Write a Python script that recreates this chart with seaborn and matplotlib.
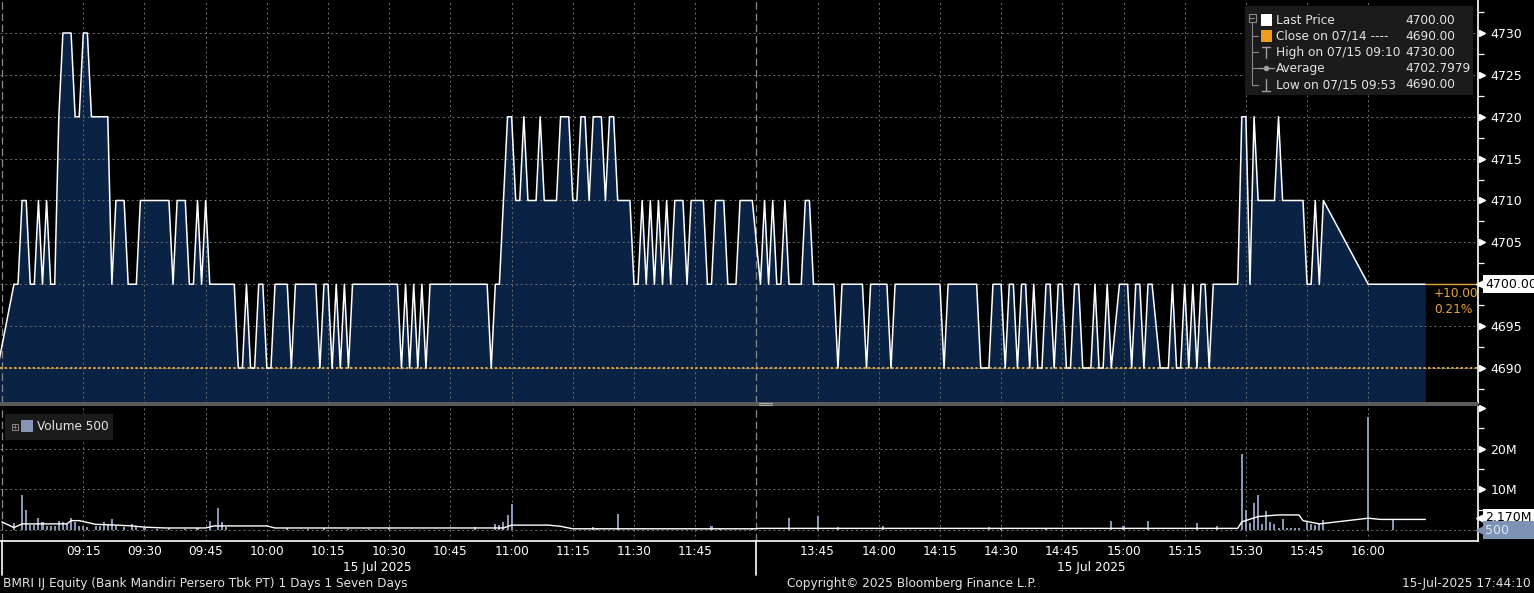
"""
BMRI IJ intraday chart (Bloomberg terminal look)
=================================================
Price area on top, volume bars + average line below.
The lunch break (12:00 - 13:30) is collapsed on the time axis.

Saves: out.png
"""

import matplotlib
matplotlib.use("Agg")
import matplotlib.pyplot as plt
import matplotlib.transforms as mtransforms
from matplotlib.lines import Line2D
from matplotlib.patches import Rectangle
import pandas as pd
import seaborn as sns

# ---------------------------------------------------------------------------
# DATA
# ---------------------------------------------------------------------------
AM_TIMES = [
    "08:54", "08:58", "08:59", "09:00", "09:01", "09:02", "09:03", "09:04", "09:05", "09:06",
    "09:07", "09:08", "09:09", "09:10", "09:12", "09:13", "09:14", "09:15", "09:16", "09:17",
    "09:21", "09:22", "09:23", "09:25", "09:26", "09:28", "09:29", "09:36", "09:37", "09:38",
    "09:40", "09:41", "09:42", "09:43", "09:44", "09:45", "09:46", "09:52", "09:53", "09:54",
    "09:55", "09:56", "09:57", "09:58", "09:59", "10:00", "10:01", "10:02", "10:05", "10:06",
    "10:07", "10:12", "10:13", "10:14", "10:15", "10:16", "10:17", "10:18", "10:19", "10:20",
    "10:21", "10:32", "10:33", "10:34", "10:35", "10:36", "10:37", "10:38", "10:39", "10:40",
    "10:54", "10:55", "10:56", "10:57", "10:58", "10:59", "11:00", "11:01", "11:02", "11:03",
    "11:04", "11:06", "11:07", "11:08", "11:11", "11:12", "11:14", "11:15", "11:16", "11:17",
    "11:18", "11:19", "11:20", "11:22", "11:23", "11:24", "11:25", "11:26", "11:29", "11:30",
    "11:31", "11:32", "11:33", "11:34", "11:35", "11:36", "11:37", "11:38", "11:39", "11:40",
    "11:42", "11:43", "11:44", "11:47", "11:48", "11:49", "11:50", "11:52", "11:53", "11:55",
    "11:56", "11:59",
]
AM_PRICES = [
    4690, 4700, 4700, 4710, 4710, 4700, 4700, 4710, 4700, 4710,
    4700, 4700, 4720, 4730, 4730, 4720, 4720, 4730, 4730, 4720,
    4720, 4700, 4710, 4710, 4700, 4700, 4710, 4710, 4700, 4710,
    4710, 4700, 4700, 4710, 4700, 4710, 4700, 4700, 4690, 4690,
    4700, 4690, 4690, 4700, 4700, 4690, 4690, 4700, 4700, 4690,
    4700, 4700, 4690, 4700, 4700, 4690, 4700, 4690, 4700, 4690,
    4700, 4700, 4690, 4700, 4690, 4700, 4690, 4700, 4690, 4700,
    4700, 4690, 4700, 4700, 4710, 4720, 4720, 4710, 4710, 4720,
    4710, 4710, 4720, 4710, 4710, 4720, 4720, 4710, 4710, 4720,
    4720, 4710, 4720, 4720, 4710, 4720, 4720, 4710, 4710, 4700,
    4700, 4710, 4700, 4710, 4700, 4710, 4700, 4710, 4700, 4710,
    4710, 4700, 4710, 4710, 4700, 4700, 4710, 4710, 4700, 4700,
    4710, 4710,
]
PM_TIMES = [
    "13:31", "13:32", "13:33", "13:34", "13:35", "13:36", "13:37", "13:38", "13:41", "13:42",
    "13:43", "13:44", "13:49", "13:50", "13:51", "13:56", "13:57", "13:58", "14:02", "14:03",
    "14:04", "14:15", "14:16", "14:17", "14:24", "14:25", "14:27", "14:28", "14:30", "14:31",
    "14:32", "14:33", "14:34", "14:35", "14:36", "14:37", "14:38", "14:39", "14:40", "14:41",
    "14:42", "14:43", "14:44", "14:45", "14:46", "14:47", "14:48", "14:49", "14:50", "14:52",
    "14:53", "14:54", "14:55", "14:56", "14:57", "14:59", "15:01", "15:02", "15:03", "15:04",
    "15:05", "15:06", "15:07", "15:09", "15:11", "15:12", "15:13", "15:14", "15:15", "15:16",
    "15:17", "15:18", "15:19", "15:20", "15:21", "15:22", "15:28", "15:29", "15:30", "15:31",
    "15:32", "15:33", "15:37", "15:38", "15:39", "15:44", "15:45", "15:46", "15:47", "15:48",
    "15:49", "16:00", "16:14",
]
PM_PRICES = [
    4700, 4710, 4700, 4710, 4700, 4700, 4710, 4700, 4700, 4710,
    4710, 4700, 4700, 4690, 4700, 4700, 4690, 4700, 4700, 4690,
    4700, 4700, 4690, 4700, 4700, 4690, 4690, 4700, 4700, 4690,
    4700, 4700, 4690, 4700, 4700, 4690, 4700, 4690, 4690, 4700,
    4700, 4690, 4700, 4700, 4690, 4690, 4700, 4700, 4690, 4690,
    4700, 4690, 4690, 4700, 4690, 4700, 4700, 4690, 4700, 4700,
    4690, 4700, 4700, 4690, 4690, 4700, 4690, 4690, 4700, 4690,
    4700, 4690, 4700, 4700, 4690, 4700, 4700, 4720, 4720, 4700,
    4720, 4710, 4710, 4720, 4710, 4710, 4700, 4700, 4710, 4700,
    4710, 4700, 4700,
]

# volume per minute, millions of shares
VOL_TIMES = [
    "08:58", "09:00", "09:01", "09:02", "09:03", "09:04", "09:05", "09:06", "09:07", "09:08",
    "09:09", "09:10", "09:11", "09:12", "09:13", "09:14", "09:15", "09:16", "09:18", "09:19",
    "09:20", "09:21", "09:22", "09:23", "09:25", "09:27", "09:28", "09:30", "09:33", "09:36",
    "09:40", "09:43", "09:46", "09:48", "09:49", "09:50", "10:05", "10:10", "10:14", "10:20",
    "10:25", "10:30", "10:51", "10:56", "10:57", "10:58", "10:59", "11:00", "11:20", "11:21",
    "11:26", "11:49", "11:51", "11:59", "13:38", "13:45", "13:50", "14:01", "14:27", "14:30",
    "14:41", "14:57", "15:00", "15:06", "15:18", "15:23", "15:29", "15:30", "15:31", "15:32",
    "15:33", "15:34", "15:35", "15:36", "15:37", "15:38", "15:39", "15:40", "15:41", "15:42",
    "15:43", "15:45", "15:46", "15:47", "15:48", "15:49", "16:00", "16:06",
]
VOL_VALUES = [
    1.6, 8.6, 4.9, 1.2, 1.2, 2.9, 2.0, 1.1, 1.1, 1.1,
    2.1, 2.0, 1.5, 2.9, 2.0, 1.1, 0.9, 0.8, 0.9, 0.9,
    2.0, 1.5, 2.7, 0.9, 0.8, 1.4, 0.8, 0.4, 0.3, 0.4,
    0.3, 0.4, 2.1, 5.4, 1.9, 0.8, 0.4, 0.3, 0.4, 0.3,
    0.3, 0.4, 0.7, 1.5, 1.3, 2.0, 3.7, 6.4, 0.7, 0.5,
    3.9, 1.0, 0.3, 0.6, 2.9, 3.5, 0.8, 1.1, 0.7, 0.5,
    0.4, 2.2, 1.0, 2.2, 1.6, 1.0, 18.6, 4.9, 1.8, 6.7,
    8.6, 1.5, 4.7, 1.9, 1.4, 0.6, 2.6, 0.5, 0.5, 0.5,
    0.5, 2.2, 1.5, 1.2, 1.5, 2.5, 27.7, 2.6,
]

# average volume line, millions
AVG_TIMES = [
    "08:55", "08:58", "09:00", "09:11", "09:12", "09:14", "09:18", "09:23", "09:27", "09:30",
    "09:35", "09:45", "09:47", "10:00", "10:02", "10:58", "11:00", "11:09", "11:12", "11:15",
    "11:59", "13:31", "15:28", "15:29", "15:33", "15:38", "15:43", "15:44", "15:48", "16:00",
    "16:03", "16:14",
]
AVG_VALUES = [
    2.0, 0.6, 1.5, 1.5, 2.3, 2.3, 1.4, 1.2, 1.0, 0.7,
    0.5, 0.5, 1.0, 1.0, 0.5, 0.5, 1.2, 1.2, 0.9, 0.3,
    0.3, 0.4, 0.4, 2.0, 3.3, 3.7, 3.7, 2.3, 1.5, 2.9,
    2.6, 2.6,
]

TIME_TICKS = ["09:15", "09:30", "09:45", "10:00", "10:15", "10:30", "10:45", "11:00",
              "11:15", "11:30", "11:45", "13:45", "14:00", "14:15", "14:30", "14:45",
              "15:00", "15:15", "15:30", "15:45", "16:00"]
PRICE_TICKS = [4690, 4695, 4700, 4705, 4710, 4715, 4720, 4725, 4730]
VOL_TICKS = [10, 20]
VOL_TICK_LABELS = ["10M", "20M"]

LAST_PRICE = 4700
PREV_CLOSE = 4690
LEGEND_LABELS = ["Last Price", "Close on 07/14 ----", "High on 07/15 09:10",
                 "Average", "Low on 07/15 09:53"]
LEGEND_VALUES = ["4700.00", "4690.00", "4730.00", "4702.7979", "4690.00"]

# ---------------------------------------------------------------------------
# STYLE
# ---------------------------------------------------------------------------
W, H = 1534, 593
BG = "#000000"
FILL = "#0a2344"
GRID = "#6f6f6f"
TXT = "#e4e4e4"
ORANGE = "#e8a33d"
VOL_COLOR = "#8796b4"
FS = 8.7


def clock_pos(t):
    """HH:MM -> minutes after 09:00 on a clock with the lunch break removed."""
    h, m = t.split(":")
    mins = int(h) * 60 + int(m)
    if mins >= 13 * 60 + 30:
        return 180 + mins - (13 * 60 + 30)
    return mins - 9 * 60


def fx(x):
    return x / W


def fy(y):
    return 1 - y / H


def px_line(fig, xs, ys, **kw):
    fig.add_artist(Line2D([fx(x) for x in xs], [fy(y) for y in ys],
                          transform=fig.transFigure, **kw))


def px_rect(fig, x0, y0, x1, y1, **kw):
    fig.add_artist(Rectangle((fx(x0), fy(y1)), fx(x1) - fx(x0), fy(y0) - fy(y1),
                             transform=fig.transFigure, **kw))


def style_axis(ax, fig, ticks, labels, minor, arrows):
    for s in ax.spines.values():
        s.set_visible(False)
    ax.spines["right"].set_visible(True)
    ax.spines["right"].set_color("white")
    ax.spines["right"].set_linewidth(1.2)
    ax.yaxis.tick_right()
    ax.set_yticks(ticks)
    ax.set_yticklabels(labels)
    ax.set_yticks(minor, minor=True)
    ax.tick_params(axis="y", which="major", length=0, pad=9, labelsize=FS + 0.3,
                   labelcolor="white")
    ax.tick_params(axis="y", which="minor", length=4, width=0.9, color="white",
                   direction="out")
    trans = mtransforms.blended_transform_factory(ax.transAxes, ax.transData)
    trans = mtransforms.offset_copy(trans, fig=fig, x=3.5, y=0, units="dots")
    ax.plot([1.0] * len(arrows), arrows, ls="none", marker=">", ms=5, color="white",
            transform=trans, clip_on=False, zorder=6)
    ax.set_xlabel("")
    ax.set_ylabel("")


def grid(ax, xs, ys):
    for x in xs:
        ax.axvline(x, color=GRID, ls=(0, (2, 3)), lw=0.7, zorder=2)
    for y in ys:
        ax.axhline(y, color=GRID, ls=(0, (2, 3)), lw=0.7, zorder=2)
    for t in ["08:55", "12:00"]:
        ax.axvline(clock_pos(t), color="#8a8a8a", ls=(0, (6, 3)), lw=0.9, zorder=2)


def tag(ax, fig, y, text, fc, tc, z):
    trans = mtransforms.blended_transform_factory(ax.transAxes, ax.transData)
    ax.plot([1.0], [y], marker="<", ms=8, color=fc, ls="none", clip_on=False, zorder=z,
            transform=mtransforms.offset_copy(trans, fig=fig, x=4, units="dots"))
    ax.text(1.0, y, text, ha="left", va="center", fontsize=FS + 0.3, color=tc,
            transform=mtransforms.offset_copy(trans, fig=fig, x=7, units="dots"),
            bbox=dict(boxstyle="square,pad=0.2", fc=fc, ec="none"),
            clip_on=False, zorder=z)


def main():
    sns.set_style("dark", {"axes.facecolor": BG, "figure.facecolor": BG})
    plt.rcParams["font.family"] = ["DejaVu Sans"]

    price = pd.DataFrame({"t": AM_TIMES + PM_TIMES, "price": AM_PRICES + PM_PRICES})
    price["x"] = price["t"].map(clock_pos)
    vol = pd.DataFrame({"t": VOL_TIMES, "v": VOL_VALUES})
    vol["x"] = vol["t"].map(clock_pos)
    avg = pd.DataFrame({"t": AVG_TIMES, "v": AVG_VALUES})
    avg["x"] = avg["t"].map(clock_pos)
    tick_x = [clock_pos(t) for t in TIME_TICKS]

    fig = plt.figure(figsize=(W / 100, H / 100), dpi=100)
    ax_p = fig.add_axes([0, fy(403), fx(1478), 403 / H])
    ax_v = fig.add_axes([0, fy(541), fx(1478), 134 / H])
    x_lo, x_hi = -5.42, 356.9
    p_lo, p_hi = 4685.82, 4733.94

    # ---- price panel ----
    ax_p.fill_between(price["x"], price["price"], p_lo, color=FILL, lw=0, zorder=1)
    grid(ax_p, tick_x, PRICE_TICKS)
    ax_p.axhline(PREV_CLOSE, color="#e0aa3a", ls=(0, (1.2, 1.2)), lw=1.4, zorder=3)
    sns.lineplot(data=price, x="x", y="price", ax=ax_p, color="white", linewidth=1.1,
                 estimator=None, sort=False, zorder=4)
    ax_p.plot([price["x"].iloc[-1], x_hi], [LAST_PRICE, LAST_PRICE], color=ORANGE,
              lw=1.0, zorder=4)
    ax_p.set_xlim(x_lo, x_hi)
    ax_p.set_ylim(p_lo, p_hi)
    ax_p.set_xticks([])
    minor_p = [p + 2.5 for p in PRICE_TICKS[:-1]] + [4687.5, 4732.5]
    # the last-price tag sits on top of the 4700 label
    labels_p = ["" if p == LAST_PRICE else str(p) for p in PRICE_TICKS]
    arrows_p = [p for p in PRICE_TICKS if p != LAST_PRICE]
    style_axis(ax_p, fig, PRICE_TICKS, labels_p, minor_p, arrows_p)
    tag(ax_p, fig, LAST_PRICE, "4700.00", "white", "black", 8)
    ax_p.text(x_hi - 10.8, LAST_PRICE - 1.1, "+10.00", color=ORANGE, fontsize=FS,
              ha="left", va="center", zorder=6)
    ax_p.text(x_hi - 10.8, LAST_PRICE - 3.0, "0.21%", color=ORANGE, fontsize=FS,
              ha="left", va="center", zorder=6)

    # ---- volume panel ----
    grid(ax_v, tick_x, [0, 10, 20])
    ax_v.bar(vol["x"], vol["v"], width=0.5, color=VOL_COLOR, lw=0, zorder=3)
    sns.lineplot(data=avg, x="x", y="v", ax=ax_v, color="white", linewidth=1.0,
                 estimator=None, sort=False, zorder=4)
    ax_v.set_xlim(x_lo, x_hi)
    ax_v.set_ylim(-2.7, 30.2)
    style_axis(ax_v, fig, VOL_TICKS, VOL_TICK_LABELS, [5, 15, 25], [10, 20, 30])
    ax_v.spines["bottom"].set_visible(True)
    ax_v.spines["bottom"].set_color("white")
    ax_v.spines["bottom"].set_linewidth(1.2)
    ax_v.set_xticks(tick_x)
    ax_v.set_xticklabels(TIME_TICKS)
    ax_v.tick_params(axis="x", length=0, pad=3, labelsize=FS, labelcolor="white")
    tag(ax_v, fig, 3.0, "2.170M", "white", "black", 7)
    tag(ax_v, fig, 0.0, "500      ", "#7d92b4", "#dfe6f2", 8)

    # session separators under the time axis + date labels
    tb = mtransforms.blended_transform_factory(ax_v.transData, ax_v.transAxes)
    for t in ["08:55", "12:00"]:
        ax_v.plot([clock_pos(t)] * 2, [0, -0.25], color="white", lw=1.2,
                  transform=tb, clip_on=False)
    for t in ["10:27", "14:52"]:
        ax_v.text(clock_pos(t), -0.195, "15 Jul 2025", transform=tb, ha="center",
                  va="center", color="white", fontsize=FS)

    # ---- panel divider ----
    px_rect(fig, 0, 402, 1478, 406, fc="#5a5a5a", ec="none", zorder=5)
    px_line(fig, [759, 772], [403.4, 403.4], color="#b0b0b0", lw=0.8, zorder=6)
    px_line(fig, [759, 772], [405.0, 405.0], color="#b0b0b0", lw=0.8, zorder=6)

    # ---- price legend ----
    px_rect(fig, 1245, 6, 1473, 95, fc="#1b1b1b", ec="none", zorder=5)
    rows = [20.5, 36.0, 52.3, 68.3, 84.8]
    px_rect(fig, 1248.5, 14.5, 1255.5, 21.5, fc="none", ec="#8a8a8a", lw=0.8, zorder=6)
    px_line(fig, [1250, 1254], [18, 18], color="#8a8a8a", lw=0.8, zorder=6)
    px_line(fig, [1252, 1252], [21.5, rows[-1]], color="#8a8a8a", lw=0.8, zorder=6)
    for r in rows[1:]:
        px_line(fig, [1252, 1258], [r, r], color="#8a8a8a", lw=0.8, zorder=6)
    px_rect(fig, 1260.5, 14, 1272, 25.5, fc="white", ec="none", zorder=6)
    px_rect(fig, 1260.5, 30, 1272, 41.5, fc="#f09a1e", ec="none", zorder=6)
    px_line(fig, [1262, 1270], [46.5, 46.5], color="#a0a0a0", lw=1.0, zorder=6)
    px_line(fig, [1266, 1266], [46.5, 58], color="#a0a0a0", lw=1.0, zorder=6)
    px_line(fig, [1258, 1274], [rows[3], rows[3]], color="#a0a0a0", lw=0.9, zorder=6)
    fig.add_artist(Line2D([fx(1266)], [fy(rows[3])], marker="o", ms=3, color="#a0a0a0",
                          transform=fig.transFigure, zorder=6))
    px_line(fig, [1266, 1266], [79, 90.5], color="#a0a0a0", lw=1.0, zorder=6)
    px_line(fig, [1262, 1270], [90.5, 90.5], color="#a0a0a0", lw=1.0, zorder=6)
    for r, lab, val in zip(rows, LEGEND_LABELS, LEGEND_VALUES):
        fig.text(fx(1276), fy(r), lab, color=TXT, fontsize=FS, va="center", zorder=7)
        fig.text(fx(1405), fy(r), val, color=TXT, fontsize=FS, va="center", zorder=7)

    # ---- volume legend ----
    px_rect(fig, 5, 414, 113, 440, fc="#1b1b1b", ec="none", zorder=5)
    px_rect(fig, 11.5, 423.5, 17.5, 429.5, fc="none", ec="#8a8a8a", lw=0.7, zorder=6)
    px_line(fig, [13, 16], [426.5, 426.5], color="#8a8a8a", lw=0.7, zorder=6)
    px_line(fig, [14.5, 14.5], [425, 428], color="#8a8a8a", lw=0.7, zorder=6)
    px_rect(fig, 21, 420, 33, 432, fc=VOL_COLOR, ec="none", zorder=6)
    fig.text(fx(37), fy(427), "Volume 500", color=TXT, fontsize=FS, va="center", zorder=7)

    # ---- footer ----
    fig.text(fx(3), fy(584), "BMRI IJ Equity (Bank Mandiri Persero Tbk PT) 1 Days 1 Seven Days",
             color=TXT, fontsize=FS, va="center")
    fig.text(fx(787), fy(584), "Copyright\u00a9 2025 Bloomberg Finance L.P.",
             color=TXT, fontsize=FS, va="center")
    fig.text(fx(1531), fy(584), "15-Jul-2025 17:44:10", color=TXT, fontsize=FS,
             va="center", ha="right")

    fig.savefig("out.png", dpi=100, facecolor=BG)


if __name__ == "__main__":
    main()
